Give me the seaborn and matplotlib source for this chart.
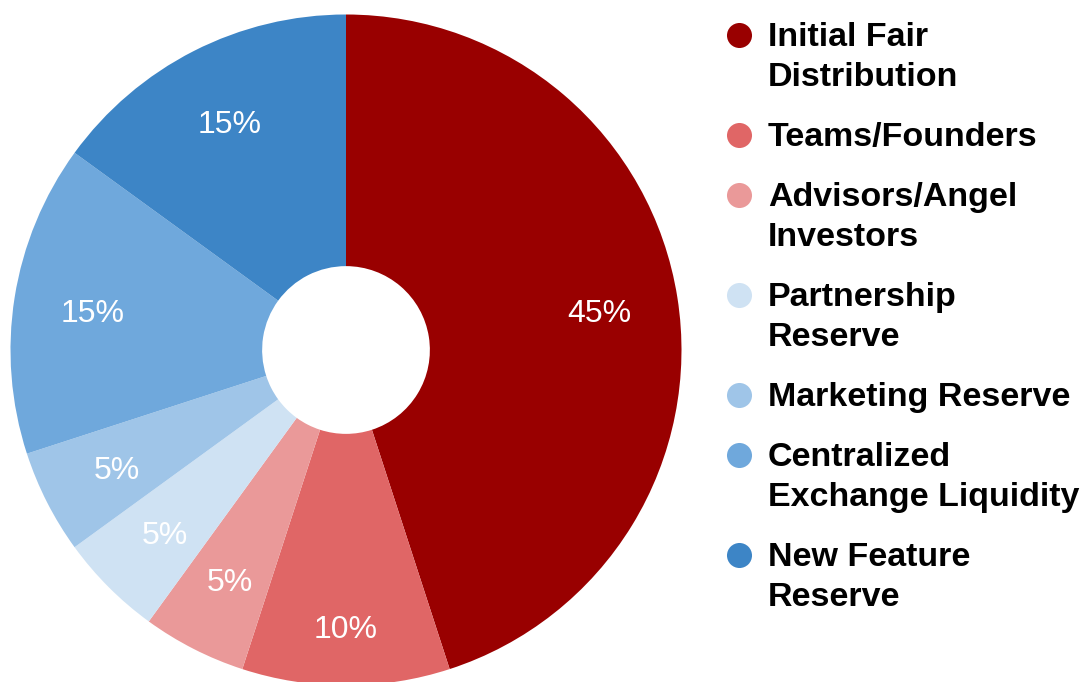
import matplotlib
matplotlib.use("Agg")
import matplotlib.pyplot as plt
import seaborn as sns

categories = ["Initial Fair\nDistribution", "Teams/Founders", "Advisors/Angel\nInvestors",
              "Partnership\nReserve", "Marketing Reserve", "Centralized\nExchange Liquidity",
              "New Feature\nReserve"]
values = [45, 10, 5, 5, 5, 15, 15]
colors = ["#990000", "#E06666", "#EA9999", "#CFE2F3", "#9FC5E8", "#6FA8DC", "#3D85C6"]

sns.set_theme(style="white")
plt.rcParams['font.family'] = ['Liberation Sans', 'DejaVu Sans']
palette = sns.color_palette(colors)

W, H = 1083, 682
fig = plt.figure(figsize=(W / 100, H / 100), dpi=100)
fig.patch.set_facecolor("white")

cx, cy, R = 346, 350, 335.5
ax = fig.add_axes([(cx - R) / W, (H - cy - R) / H, 2 * R / W, 2 * R / H])
wedges, texts, autotexts = ax.pie(
    values, colors=palette, startangle=90, counterclock=False,
    autopct="%.0f%%", pctdistance=0.765, radius=1,
    wedgeprops=dict(width=0.75, linewidth=0),
    textprops=dict(color="white", fontsize=23))
# 10% label sits slightly further out in the reference
x, y = autotexts[1].get_position()
autotexts[1].set_position((x * 0.824 / 0.765, y * 0.824 / 0.765))
for t in autotexts:
    x, y = t.get_position()
    t.set_position((x, y - 0.012))
ax.set_xlim(-1, 1)
ax.set_ylim(-1, 1)
ax.set_aspect("equal")
ax.axis("off")

# legend (manual, first line aligned with marker)
lax = fig.add_axes([0, 0, 1, 1])
lax.set_xlim(0, W)
lax.set_ylim(H, 0)
lax.axis("off")
base = 46
line_h = 40
gap = 20
for lab, col in zip(categories, palette):
    lines = lab.split("\n")
    lax.scatter([739], [base - 11], s=25 ** 2 * 0.52, color=col, marker="o", linewidths=0)
    for i, ln in enumerate(lines):
        lax.text(768, base + i * line_h, ln, fontsize=24.5, fontweight="bold",
                 color="black", va="baseline", ha="left")
    base += line_h * len(lines) + gap

fig.savefig("out.png", dpi=100, facecolor="white")
